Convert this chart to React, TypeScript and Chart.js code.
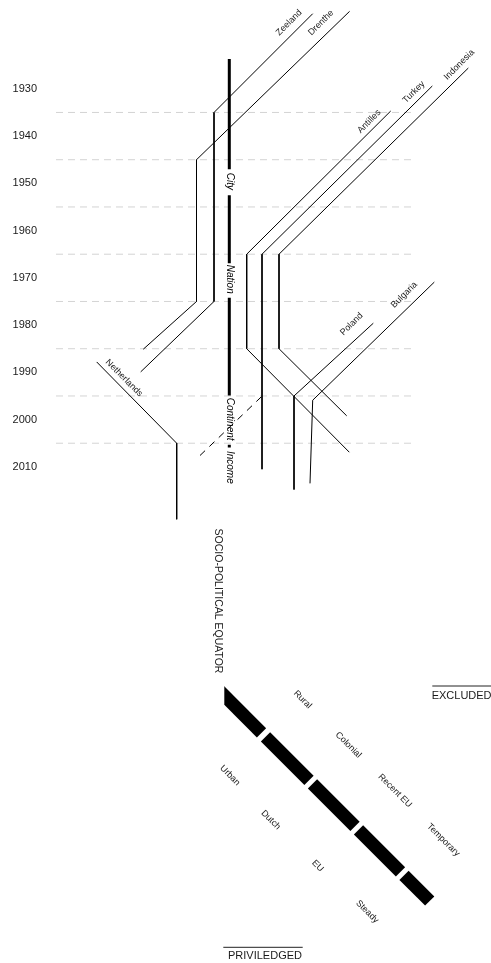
import React, { useEffect, useRef } from 'react';
import { Chart, registerables } from 'chart.js';

Chart.register(...registerables);

const FONT = "'Liberation Sans', Arial, Helvetica, sans-serif";

// ---- Time axis ----
const yearTicks = [1930, 1940, 1950, 1960, 1970, 1980, 1990, 2000, 2010];
const gridYears = [1935, 1945, 1955, 1965, 1975, 1985, 1995, 2005];

// ---- Migration pathways: [position, year] ----
const zeeland = [[312.7, 1914.1], [214, 1935], [214, 1975], [140.7, 1989.9]];
const drenthe = [[349.6, 1913.6], [196.5, 1945], [196.5, 1975], [143.3, 1985.1]];
const antilles = [[390.7, 1934.7], [246.7, 1965], [246.7, 1985], [349.3, 2006.9]];
const turkey = [[432.3, 1929.4], [262, 1965], [262, 2010.5]];
const indonesia = [[468.3, 1925.6], [279, 1965], [279, 1985], [346.7, 1999.2]];
const poland = [[373.3, 1979.6], [294, 1995], [294, 2014.8]];
const bulgaria = [[434.3, 1970.9], [312.7, 1995.9], [310, 2013.5]];
const netherlands = [[96.7, 1987.8], [176.7, 2005], [176.7, 2021.1]];
const turkeyLink = [[200, 2007.6], [261.7, 1995.1]];

const pathwayNames = ['Zeeland', 'Drenthe', 'Antilles', 'Turkey', 'Indonesia', 'Poland', 'Bulgaria', 'Netherlands'];

// ---- Scale of belonging (central axis), year spans ----
const scaleAxisX = 229.3;
const scaleSpans = [[1923.7, 1947.0], [1952.5, 1966.9], [1974.2, 1994.9], [2005.3, 2005.9]];
const scaleNames = ['City', 'Nation', 'Continent', 'Income'];
const scaleNameYears = [1949.6, 1970.3, 1999.9, 2010.1];

// ---- Socio-political equator (lower panel) ----
const equatorSegments = [
  [[219, 690.3], [261.5, 732.8]],
  [[265.5, 736.8], [309, 780.3]],
  [[312.5, 783.8], [355, 826.3]],
  [[358.5, 829.8], [400.5, 871.8]],
  [[404, 875.3], [429.7, 901]],
];
const excludedSide = ['Rural', 'Colonial', 'Recent EU', 'Temporary'];
const privilegedSide = ['Urban', 'Dutch', 'EU', 'Steady'];

type Ann = { text: string; x: number; y: number; axis: 'y' | 'y2'; rot: number; size: number; italic?: boolean; color?: string };

const annotations: Ann[] = [
  { text: pathwayNames[0], x: 289, y: 1916.0, axis: 'y', rot: -45, size: 9 },
  { text: pathwayNames[1], x: 321, y: 1916.0, axis: 'y', rot: -45, size: 9 },
  { text: pathwayNames[2], x: 369.2, y: 1936.9, axis: 'y', rot: -45, size: 9 },
  { text: pathwayNames[3], x: 413.8, y: 1930.7, axis: 'y', rot: -45, size: 9 },
  { text: pathwayNames[4], x: 459.2, y: 1924.9, axis: 'y', rot: -45, size: 9 },
  { text: pathwayNames[5], x: 351.7, y: 1979.8, axis: 'y', rot: -45, size: 9 },
  { text: pathwayNames[6], x: 404.2, y: 1973.6, axis: 'y', rot: -45, size: 9 },
  { text: pathwayNames[7], x: 124, y: 1991.2, axis: 'y', rot: 45, size: 9 },
  ...scaleNames.map((t, i) => ({ text: t, x: scaleAxisX, y: scaleNameYears[i], axis: 'y' as const, rot: 90, size: 10, italic: true, color: '#000' })),
  { text: 'SOCIO-POLITICAL EQUATOR', x: 217.5, y: 601, axis: 'y2', rot: 90, size: 10.5 },
  { text: excludedSide[0], x: 302.5, y: 699.5, axis: 'y2', rot: 45, size: 9 },
  { text: excludedSide[1], x: 348.3, y: 745, axis: 'y2', rot: 45, size: 9 },
  { text: excludedSide[2], x: 395, y: 790.8, axis: 'y2', rot: 45, size: 9 },
  { text: excludedSide[3], x: 443.3, y: 840, axis: 'y2', rot: 45, size: 9 },
  { text: privilegedSide[0], x: 230, y: 775.5, axis: 'y2', rot: 45, size: 9 },
  { text: privilegedSide[1], x: 270.8, y: 820, axis: 'y2', rot: 45, size: 9 },
  { text: privilegedSide[2], x: 317.8, y: 865.8, axis: 'y2', rot: 45, size: 9 },
  { text: privilegedSide[3], x: 367.2, y: 911.7, axis: 'y2', rot: 45, size: 9 },
  { text: 'EXCLUDED', x: 461.6, y: 695.7, axis: 'y2', rot: 0, size: 11 },
  { text: 'PRIVILEDGED', x: 265, y: 955.5, axis: 'y2', rot: 0, size: 11 },
];

const textPlugin = {
  id: 'textMarks',
  afterDatasetsDraw(chart: any) {
    const ctx = chart.ctx as CanvasRenderingContext2D;
    const xs = chart.scales.x;
    for (const t of annotations) {
      const ys = chart.scales[t.axis];
      const px = xs.getPixelForValue(t.x);
      const py = ys.getPixelForValue(t.y);
      ctx.save();
      ctx.translate(px, py);
      ctx.rotate((t.rot * Math.PI) / 180);
      ctx.font = `${t.italic ? 'italic ' : ''}${t.size}px ${FONT}`;
      ctx.fillStyle = t.color || '#1a1a1a';
      ctx.textAlign = 'center';
      ctx.textBaseline = 'middle';
      ctx.fillText(t.text, 0, 0);
      ctx.restore();
    }
  },
};

const toPts = (arr: number[][]) => arr.map(([x, y]) => ({ x, y }));

export default function App() {
  const ref = useRef<HTMLCanvasElement>(null);

  useEffect(() => {
    const canvas = ref.current;
    if (!canvas) return;

    const base = { pointRadius: 0, pointHoverRadius: 0, tension: 0, fill: false, order: 0 };
    const datasets: any[] = [];

    // gridlines (behind everything)
    gridYears.forEach((g) => {
      datasets.push({
        ...base,
        order: 10,
        data: [{ x: 56, y: g }, { x: 414, y: g }],
        borderColor: '#d4d4d4',
        borderWidth: 1,
        borderDash: [7, 5],
        yAxisID: 'y',
      });
    });

    [zeeland, drenthe, antilles, turkey, indonesia, poland, bulgaria, netherlands].forEach((p) => {
      datasets.push({ ...base, data: toPts(p), borderColor: '#000', borderWidth: 1, yAxisID: 'y' });
    });
    datasets.push({ ...base, data: toPts(turkeyLink), borderColor: '#000', borderWidth: 1, borderDash: [7, 6], yAxisID: 'y' });

    scaleSpans.forEach(([a, b]) => {
      datasets.push({
        ...base,
        data: [{ x: scaleAxisX, y: a }, { x: scaleAxisX, y: b }],
        borderColor: '#000',
        borderWidth: 3,
        borderCapStyle: 'butt',
        yAxisID: 'y',
      });
    });

    equatorSegments.forEach((seg, i) => {
      datasets.push({
        ...base,
        data: toPts(seg),
        borderColor: '#000',
        borderWidth: 13,
        borderCapStyle: 'butt',
        yAxisID: 'y2',
        clip: i === 0 ? { left: -184.3, top: false, right: false, bottom: false } : undefined,
      });
    });

    // over-lines of the side captions
    datasets.push({ ...base, data: [{ x: 432.3, y: 686 }, { x: 491, y: 686 }], borderColor: '#222', borderWidth: 1, yAxisID: 'y2' });
    datasets.push({ ...base, data: [{ x: 223.3, y: 947.3 }, { x: 302.7, y: 947.3 }], borderColor: '#222', borderWidth: 1, yAxisID: 'y2' });

    const chart = new Chart(canvas, {
      type: 'line',
      data: { datasets },
      options: {
        animation: false,
        responsive: false,
        events: [],
        layout: { padding: 0 },
        plugins: {
          legend: { display: false },
          tooltip: { enabled: false },
        },
        scales: {
          x: { type: 'linear', min: 40, max: 491, display: false },
          y: {
            type: 'linear',
            min: 1911.2,
            max: 2115,
            reverse: true,
            position: 'left',
            afterBuildTicks: (ax: any) => {
              ax.ticks = yearTicks.map((v) => ({ value: v }));
            },
            afterFit: (ax: any) => {
              ax.width = 40;
              ax.paddingTop = 0;
              ax.paddingBottom = 0;
            },
            ticks: {
              autoSkip: false,
              padding: 3,
              color: '#1a1a1a',
              font: { family: FONT, size: 11 },
              callback: (v: any) => String(v),
            },
            grid: { display: false, drawTicks: false },
            border: { display: false },
          },
          y2: { type: 'linear', min: 0, max: 963, reverse: true, display: false },
        },
      } as any,
      plugins: [textPlugin],
    });

    return () => chart.destroy();
  }, []);

  return (
    <div style={{ position: 'absolute', left: 0, top: 0, width: 491, height: 963, background: '#fff' }}>
      <canvas ref={ref} width={491} height={963} style={{ display: 'block' }} />
    </div>
  );
}
